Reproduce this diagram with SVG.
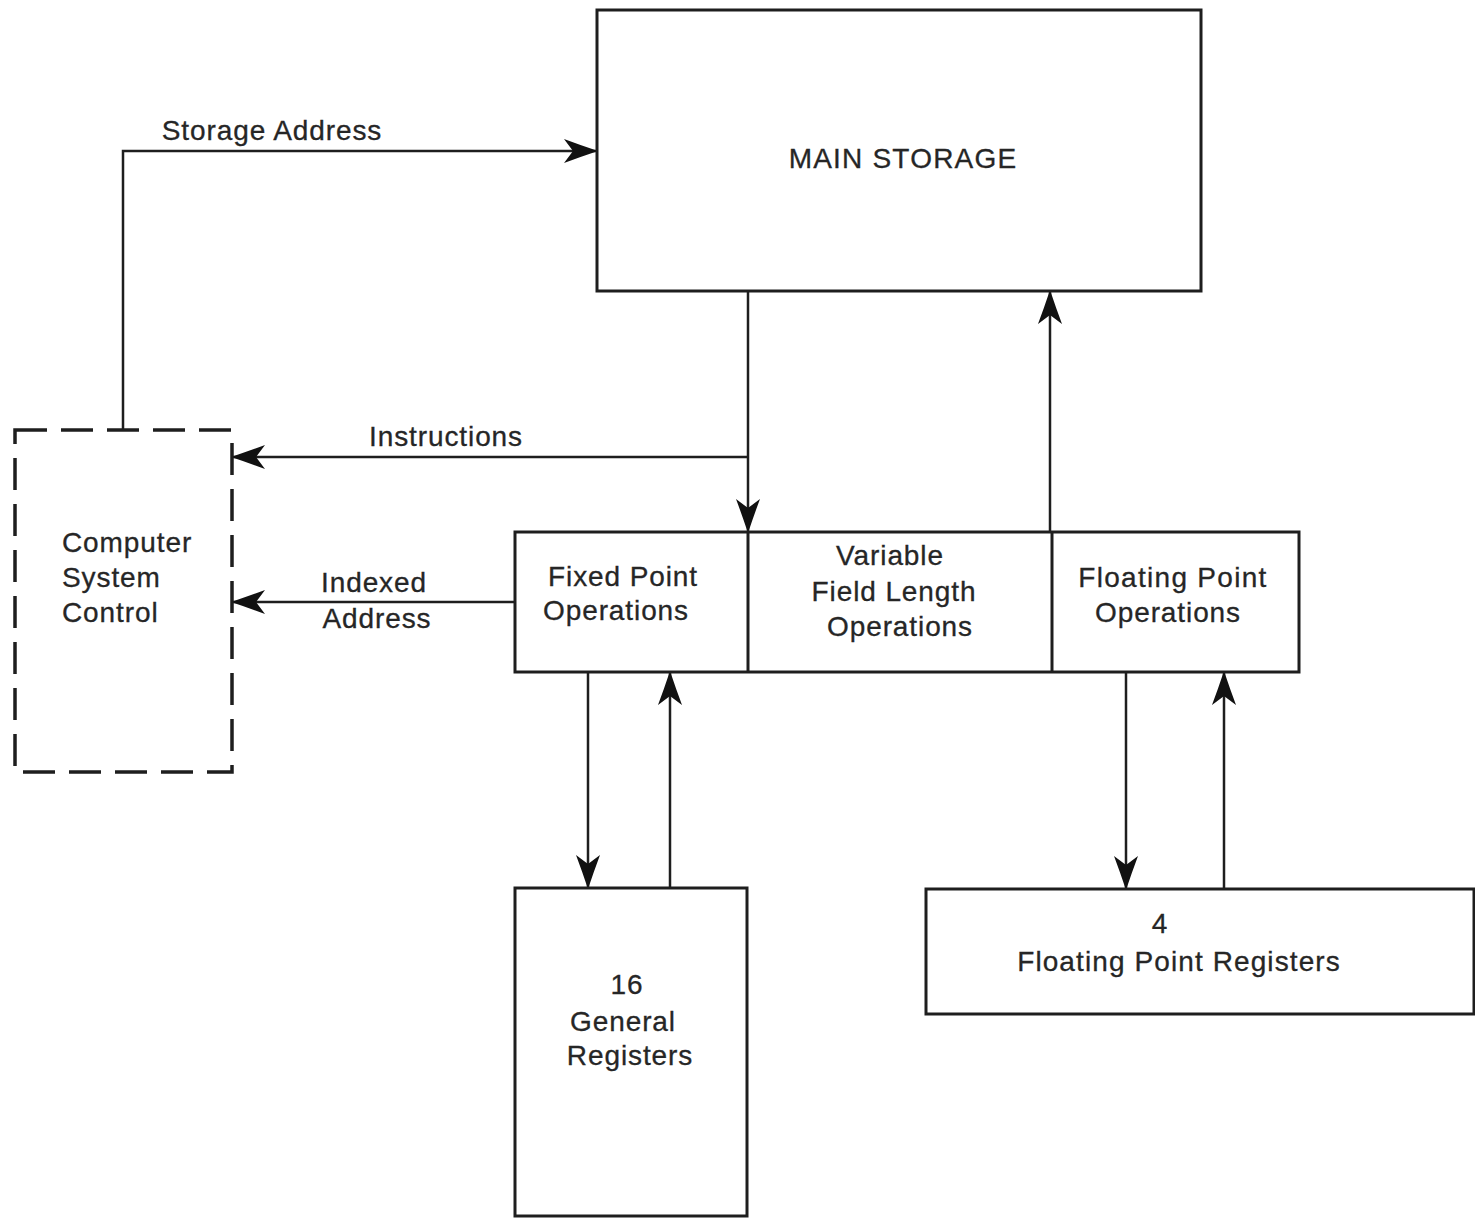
<svg xmlns="http://www.w3.org/2000/svg" width="1475" height="1218" viewBox="0 0 1475 1218">
<style>
.box{fill:none;stroke:#1e1e1e;stroke-width:3}
.dash{fill:none;stroke:#1e1e1e;stroke-width:3.5;stroke-dasharray:32 14}
.ln{fill:none;stroke:#1e1e1e;stroke-width:2.5}
text{font-family:"Liberation Sans",Arial,sans-serif;font-size:28px;fill:#262626;letter-spacing:0.9px;stroke:#262626;stroke-width:0.3px}
.c{text-anchor:middle}
</style>
<defs>
<marker id="arr" markerUnits="userSpaceOnUse" viewBox="0 0 34 24" markerWidth="34" markerHeight="24" refX="33" refY="12" orient="auto">
<path d="M34,12 Q16,6 0,0 L9,12 L0,24 Q16,18 34,12 Z" fill="#111"/>
</marker>
</defs>
<rect width="1475" height="1218" fill="#fff"/>

<g id="connectors">
<polyline class="ln" points="123,430 123,151 597,151" marker-end="url(#arr)"/>
<line class="ln" x1="748" y1="291" x2="748" y2="532" marker-end="url(#arr)"/>
<line class="ln" x1="748" y1="457" x2="232" y2="457" marker-end="url(#arr)"/>
<line class="ln" x1="515" y1="602" x2="232" y2="602" marker-end="url(#arr)"/>
<line class="ln" x1="1050" y1="532" x2="1050" y2="291" marker-end="url(#arr)"/>
<line class="ln" x1="588" y1="672" x2="588" y2="888" marker-end="url(#arr)"/>
<line class="ln" x1="670" y1="888" x2="670" y2="672" marker-end="url(#arr)"/>
<line class="ln" x1="1126" y1="672" x2="1126" y2="889" marker-end="url(#arr)"/>
<line class="ln" x1="1224" y1="889" x2="1224" y2="672" marker-end="url(#arr)"/>
<text x="272" y="140" class="c">Storage Address</text>
<text x="446" y="446" class="c">Instructions</text>
<text x="374" y="592" class="c">Indexed</text>
<text x="377" y="628" class="c">Address</text>
</g>

<g id="main-storage">
<rect class="box" x="597" y="10" width="604" height="281"/>
<text x="903" y="168" class="c" style="letter-spacing:1.2px">MAIN STORAGE</text>
</g>

<g id="computer-system-control">
<rect class="dash" x="15" y="430" width="217" height="342"/>
<text x="62" y="552">Computer</text>
<text x="62" y="587">System</text>
<text x="62" y="622">Control</text>
</g>

<g id="operations">
<rect class="box" x="515" y="532" width="784" height="140"/>
<line class="box" x1="748" y1="532" x2="748" y2="672"/>
<line class="box" x1="1052" y1="532" x2="1052" y2="672"/>
</g>

<g id="fixed-point-ops">
<text x="623" y="586" class="c">Fixed Point</text>
<text x="616" y="620" class="c">Operations</text>
</g>

<g id="vfl-ops">
<text x="890" y="565" class="c">Variable</text>
<text x="894" y="601" class="c">Field Length</text>
<text x="900" y="636" class="c">Operations</text>
</g>

<g id="floating-point-ops">
<text x="1173" y="587" class="c" style="letter-spacing:1.3px">Floating Point</text>
<text x="1168" y="622" class="c">Operations</text>
</g>

<g id="general-registers">
<rect class="box" x="515" y="888" width="232" height="328"/>
<text x="627" y="994" class="c">16</text>
<text x="623" y="1031" class="c">General</text>
<text x="630" y="1065" class="c">Registers</text>
</g>

<g id="fp-registers">
<rect class="box" x="926" y="889" width="548" height="125"/>
<text x="1160" y="933" class="c">4</text>
<text x="1179" y="971" class="c" style="letter-spacing:1.1px">Floating Point Registers</text>
</g>
</svg>
